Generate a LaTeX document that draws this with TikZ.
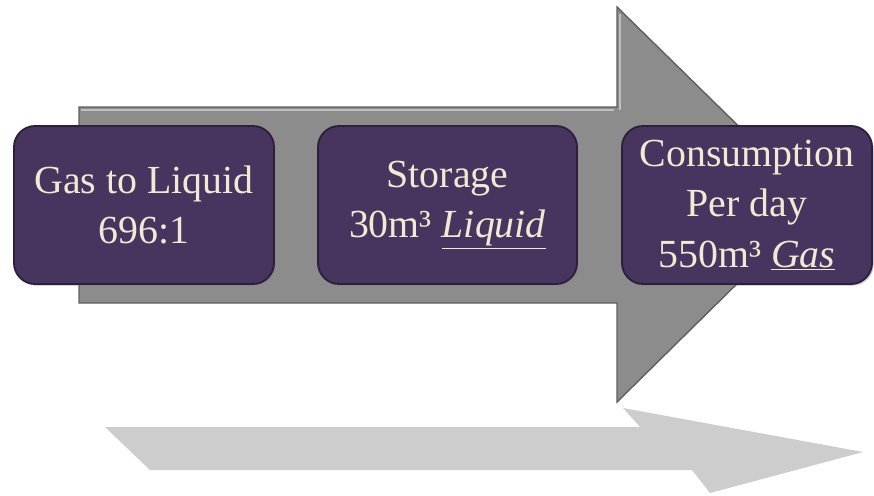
\documentclass[tikz,border=0pt]{standalone}
\usepackage{fontspec}
\setmainfont{Liberation Serif}
\usetikzlibrary{shadows}

\definecolor{arrowgray}{RGB}{140,140,140}
\definecolor{arrowedge}{RGB}{95,95,95}
\definecolor{shadowgray}{RGB}{205,205,205}
\definecolor{boxpurple}{RGB}{72,53,95}
\definecolor{boxedge}{RGB}{45,32,62}
\definecolor{cream}{RGB}{240,234,212}

\tikzset{
  stagebox/.style={rectangle, rounded corners=18, fill=boxpurple, draw=boxedge,
    line width=1.6pt, text=cream, align=center, inner sep=0pt,
    minimum height=4.74cm,
    drop shadow={opacity=0.35, shadow xshift=1.5pt, shadow yshift=-1.5pt},
    font=\fontsize{34}{43}\selectfont},
}

\begin{document}
\begin{tikzpicture}[x=0.03cm, y=-0.03cm]
    % Fix the page to the size of the reference (874 x 495)
    \useasboundingbox (0, 0) rectangle (874, 495);

    % Flat shadow of the arrow on the floor
    \fill[shadowgray] (105, 427) -- (640, 427) -- (623, 408) -- (863, 452) -- (710, 493) -- (692, 470) -- (150, 470) -- cycle;

    % Big gray arrow behind the boxes
    \filldraw[fill=arrowgray, draw=arrowedge, line width=1.2pt, line join=miter]
        (79, 107) -- (617, 107) -- (617, 7) -- (818, 204) -- (617, 402) -- (617, 303) -- (79, 303) -- cycle;
    % light bevel along the top of the arrow
    \draw[white, opacity=0.45, line width=1.5pt] (81, 110) -- (614, 110);
    \draw[white, opacity=0.45, line width=1.5pt] (620, 14) -- (620, 110);

    % The three stages
    \node[stagebox, minimum width=7.8cm] (gtl) at (144, 205) {Gas to Liquid\\696:1};
    \node[stagebox, minimum width=7.77cm] (storage) at (447.5, 205) {Storage\\30m³ \underline{\textit{Liquid}}};
    \node[stagebox, minimum width=7.5cm] (consumption) at (747, 205) {Consumption\\Per day\\550m³ \underline{\textit{Gas}}};
\end{tikzpicture}
\end{document}
